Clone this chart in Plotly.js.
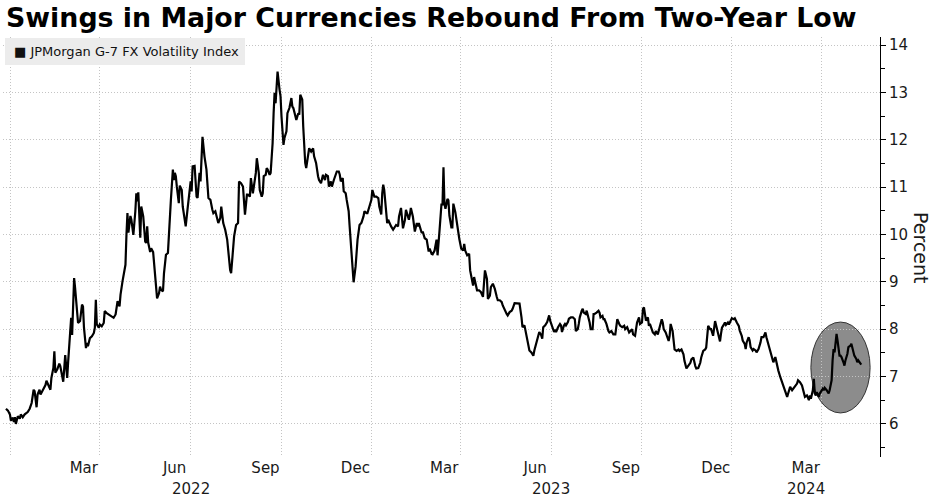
<!DOCTYPE html>
<html>
<head>
<meta charset="utf-8">
<script src="https://cdn.plot.ly/plotly-3.0.1.min.js"></script>
<style>
  html, body { margin: 0; padding: 0; background: #fff; }
  #chart { width: 934px; height: 499px; }
</style>
</head>
<body>
<div id="chart"></div>
<script>
// ---- Data: JPMorgan G-7 FX Volatility Index (percent) ----
const dates = [
  '2021-11-26','2021-11-28','2021-11-30',
  '2021-12-01','2021-12-03','2021-12-04','2021-12-05','2021-12-06','2021-12-08','2021-12-10','2021-12-11','2021-12-13','2021-12-15','2021-12-18','2021-12-20','2021-12-22','2021-12-24','2021-12-25','2021-12-27','2021-12-28','2021-12-30','2021-12-31',
  '2022-01-02','2022-01-05','2022-01-06','2022-01-08','2022-01-10','2022-01-11','2022-01-13','2022-01-14','2022-01-15','2022-01-17','2022-01-19','2022-01-20','2022-01-22','2022-01-23','2022-01-25','2022-01-27','2022-01-28','2022-01-30','2022-01-31',
  '2022-02-01','2022-02-02','2022-02-03','2022-02-04','2022-02-06','2022-02-07','2022-02-09','2022-02-11','2022-02-12','2022-02-13','2022-02-15','2022-02-16','2022-02-17','2022-02-19','2022-02-21','2022-02-23','2022-02-24','2022-02-25','2022-02-26','2022-02-28',
  '2022-03-01','2022-03-03','2022-03-05','2022-03-06','2022-03-08','2022-03-10','2022-03-11','2022-03-13','2022-03-15','2022-03-17','2022-03-18','2022-03-19','2022-03-21','2022-03-22','2022-03-24','2022-03-26','2022-03-27','2022-03-28','2022-03-29','2022-03-30',
  '2022-04-01','2022-04-02','2022-04-04','2022-04-06','2022-04-07','2022-04-08','2022-04-09','2022-04-11','2022-04-12','2022-04-14','2022-04-16','2022-04-17','2022-04-18','2022-04-19','2022-04-21','2022-04-22','2022-04-24','2022-04-25','2022-04-27','2022-04-28','2022-04-30',
  '2022-05-01','2022-05-02','2022-05-04','2022-05-05','2022-05-07','2022-05-09','2022-05-10','2022-05-12','2022-05-14','2022-05-15','2022-05-16','2022-05-17','2022-05-18','2022-05-20','2022-05-21','2022-05-23','2022-05-24','2022-05-26','2022-05-27','2022-05-29','2022-05-31',
  '2022-06-01','2022-06-02','2022-06-03','2022-06-05','2022-06-06','2022-06-07','2022-06-08','2022-06-10','2022-06-11','2022-06-12','2022-06-13','2022-06-15','2022-06-16','2022-06-17','2022-06-19','2022-06-21','2022-06-23','2022-06-24','2022-06-26','2022-06-27','2022-06-29',
  '2022-07-01','2022-07-02','2022-07-04','2022-07-06','2022-07-08','2022-07-09','2022-07-11','2022-07-12','2022-07-14','2022-07-15','2022-07-17','2022-07-19','2022-07-20','2022-07-22','2022-07-24','2022-07-25','2022-07-26','2022-07-28','2022-07-29','2022-07-31',
  '2022-08-01','2022-08-03','2022-08-04','2022-08-06','2022-08-07','2022-08-09','2022-08-10','2022-08-12','2022-08-13','2022-08-14','2022-08-16','2022-08-17','2022-08-18','2022-08-20','2022-08-21','2022-08-23','2022-08-24','2022-08-25','2022-08-26','2022-08-27','2022-08-28','2022-08-30','2022-08-31',
  '2022-09-01','2022-09-03','2022-09-04','2022-09-06','2022-09-07','2022-09-09','2022-09-11','2022-09-12','2022-09-13','2022-09-15','2022-09-16','2022-09-18','2022-09-19','2022-09-20','2022-09-22','2022-09-23','2022-09-24','2022-09-25','2022-09-26','2022-09-28','2022-09-29',
  '2022-10-01','2022-10-03','2022-10-04','2022-10-06','2022-10-08','2022-10-09','2022-10-11','2022-10-13','2022-10-15','2022-10-16','2022-10-18','2022-10-19','2022-10-21','2022-10-22','2022-10-24','2022-10-25','2022-10-27','2022-10-29','2022-10-30','2022-10-31',
  '2022-11-02','2022-11-03','2022-11-05','2022-11-06','2022-11-08','2022-11-09','2022-11-11','2022-11-12','2022-11-13','2022-11-15','2022-11-16','2022-11-17','2022-11-19','2022-11-20','2022-11-21','2022-11-23','2022-11-24','2022-11-26','2022-11-27','2022-11-29',
  '2022-12-01','2022-12-02','2022-12-04','2022-12-06','2022-12-08','2022-12-09','2022-12-11','2022-12-12','2022-12-13','2022-12-14','2022-12-16','2022-12-17','2022-12-18','2022-12-20','2022-12-21','2022-12-23','2022-12-24','2022-12-26','2022-12-28','2022-12-29','2022-12-31',
  '2023-01-01','2023-01-02','2023-01-04','2023-01-05','2023-01-06','2023-01-08','2023-01-09','2023-01-10','2023-01-12','2023-01-13','2023-01-14','2023-01-16','2023-01-17','2023-01-18','2023-01-20','2023-01-21','2023-01-22','2023-01-24','2023-01-26','2023-01-27','2023-01-28','2023-01-29','2023-01-31',
  '2023-02-01','2023-02-03','2023-02-05','2023-02-06','2023-02-08','2023-02-10','2023-02-11','2023-02-12','2023-02-13','2023-02-14','2023-02-16','2023-02-17','2023-02-18','2023-02-20','2023-02-21','2023-02-22','2023-02-24','2023-02-25','2023-02-27','2023-02-28',
  '2023-03-02','2023-03-04','2023-03-05','2023-03-06','2023-03-08','2023-03-10','2023-03-11','2023-03-13','2023-03-14','2023-03-15','2023-03-17','2023-03-18','2023-03-20','2023-03-22','2023-03-24','2023-03-25','2023-03-26','2023-03-28','2023-03-29','2023-03-31',
  '2023-04-01','2023-04-03','2023-04-05','2023-04-07','2023-04-08','2023-04-10','2023-04-12','2023-04-13','2023-04-15','2023-04-17','2023-04-18','2023-04-20','2023-04-22','2023-04-23','2023-04-25','2023-04-27','2023-04-28','2023-04-30',
  '2023-05-02','2023-05-03','2023-05-05','2023-05-06','2023-05-08','2023-05-09','2023-05-10','2023-05-12','2023-05-14','2023-05-15','2023-05-17','2023-05-19','2023-05-20','2023-05-22','2023-05-23','2023-05-24','2023-05-26','2023-05-28','2023-05-30','2023-05-31',
  '2023-06-02','2023-06-04','2023-06-05','2023-06-06','2023-06-08','2023-06-10','2023-06-11','2023-06-12','2023-06-14','2023-06-15','2023-06-16','2023-06-18','2023-06-19','2023-06-21','2023-06-23','2023-06-24','2023-06-25','2023-06-26','2023-06-28','2023-06-29','2023-06-30',
  '2023-07-02','2023-07-03','2023-07-04','2023-07-06','2023-07-07','2023-07-09','2023-07-10','2023-07-11','2023-07-13','2023-07-14','2023-07-15','2023-07-17','2023-07-19','2023-07-20','2023-07-21','2023-07-23','2023-07-24','2023-07-25','2023-07-27','2023-07-29','2023-07-30',
  '2023-08-01','2023-08-03','2023-08-05','2023-08-06','2023-08-07','2023-08-09','2023-08-10','2023-08-12','2023-08-14','2023-08-15','2023-08-17','2023-08-19','2023-08-20','2023-08-22','2023-08-23','2023-08-25','2023-08-26','2023-08-27','2023-08-29','2023-08-30',
  '2023-09-01','2023-09-02','2023-09-03','2023-09-04','2023-09-05','2023-09-07','2023-09-08','2023-09-09','2023-09-11','2023-09-12','2023-09-14','2023-09-15','2023-09-17','2023-09-18','2023-09-19','2023-09-21','2023-09-22','2023-09-23','2023-09-25','2023-09-26','2023-09-28','2023-09-29','2023-09-30',
  '2023-10-02','2023-10-03','2023-10-04','2023-10-06','2023-10-08','2023-10-09','2023-10-11','2023-10-13','2023-10-14','2023-10-16','2023-10-18','2023-10-20','2023-10-21','2023-10-23','2023-10-25','2023-10-26','2023-10-28','2023-10-30','2023-10-31',
  '2023-11-02','2023-11-04','2023-11-05','2023-11-07','2023-11-09','2023-11-10','2023-11-12','2023-11-14','2023-11-15','2023-11-17','2023-11-18','2023-11-19','2023-11-20','2023-11-21','2023-11-23','2023-11-24','2023-11-25','2023-11-27','2023-11-28','2023-11-30',
  '2023-12-01','2023-12-03','2023-12-04','2023-12-06','2023-12-08','2023-12-09','2023-12-11','2023-12-12','2023-12-14','2023-12-15','2023-12-16','2023-12-18','2023-12-19','2023-12-20','2023-12-22','2023-12-23','2023-12-25','2023-12-26','2023-12-28','2023-12-30','2023-12-31',
  '2024-01-02','2024-01-04','2024-01-05','2024-01-07','2024-01-09','2024-01-10','2024-01-12','2024-01-14','2024-01-15','2024-01-17','2024-01-19','2024-01-21','2024-01-22','2024-01-24','2024-01-26','2024-01-27','2024-01-29','2024-01-31',
  '2024-02-01','2024-02-03','2024-02-05','2024-02-06','2024-02-08','2024-02-10','2024-02-11','2024-02-13','2024-02-15','2024-02-17','2024-02-18','2024-02-19','2024-02-21','2024-02-22','2024-02-23','2024-02-24','2024-02-25','2024-02-27','2024-02-28','2024-02-29',
  '2024-03-02','2024-03-03','2024-03-04','2024-03-06','2024-03-08','2024-03-09','2024-03-11','2024-03-12','2024-03-13','2024-03-14','2024-03-15','2024-03-16','2024-03-17','2024-03-19','2024-03-20','2024-03-21','2024-03-23','2024-03-24','2024-03-25','2024-03-27','2024-03-28','2024-03-30','2024-03-31',
  '2024-04-02','2024-04-03','2024-04-05','2024-04-06','2024-04-07','2024-04-09','2024-04-10'
];
const volatility = [
  6.32,6.28,6.20,
  6.07,6.13,6.04,6.14,6.00,6.16,6.11,6.20,6.14,6.20,6.25,6.32,6.44,6.72,6.69,6.35,6.62,6.72,6.62,
  6.70,6.82,6.91,6.83,6.72,6.97,7.18,7.53,7.08,7.15,7.27,7.22,6.97,6.89,7.45,6.97,7.32,7.88,8.24,
  7.88,8.45,9.08,8.87,8.45,8.13,8.17,8.52,8.48,8.03,7.60,7.71,7.64,7.81,7.85,7.92,8.03,8.62,8.10,8.03,
  8.10,8.06,8.13,8.38,8.34,8.31,8.31,8.27,8.24,8.31,8.45,8.59,8.48,8.73,9.01,9.22,9.36,9.99,10.45,10.04,
  10.39,10.31,9.99,10.49,10.87,10.70,10.89,9.93,10.59,10.38,9.85,9.82,10.17,9.83,9.63,9.71,9.63,9.39,8.90,8.65,8.76,
  8.90,8.83,8.80,9.18,9.57,9.61,10.03,10.73,11.37,11.15,11.30,11.23,11.01,10.66,11.03,10.94,10.59,10.31,10.17,10.56,10.91,
  11.12,10.91,11.44,11.45,11.12,10.80,10.77,11.30,11.12,11.58,12.06,11.65,11.44,11.37,10.77,10.73,10.52,10.45,10.49,10.42,10.24,
  10.35,10.59,10.24,10.10,9.89,9.61,9.25,9.18,9.68,9.96,10.20,10.24,11.12,11.08,11.01,10.73,10.42,10.84,10.84,10.80,
  11.19,10.87,11.01,11.30,11.61,11.30,10.94,10.80,10.87,11.23,11.26,11.40,11.37,11.26,11.30,11.93,12.56,12.99,12.77,13.02,13.44,13.06,12.92,
  12.49,11.89,12.04,12.18,12.56,12.67,12.88,12.70,12.67,12.53,12.42,12.56,12.53,12.95,12.85,12.28,11.72,11.51,11.40,11.65,11.82,
  11.75,11.82,11.65,11.51,11.23,11.15,11.08,11.26,11.15,11.26,11.23,11.01,11.12,11.01,11.15,11.23,11.33,11.33,11.26,11.12,
  11.19,10.91,10.87,10.73,10.49,10.17,9.61,9.18,8.99,9.32,9.68,9.89,10.20,10.24,10.25,10.38,10.49,10.45,10.45,10.59,
  10.73,10.94,10.80,10.80,10.77,10.59,10.42,10.87,11.05,10.94,10.38,10.24,10.31,10.20,10.17,10.10,10.13,10.20,10.17,10.38,10.56,
  10.35,10.13,10.31,10.52,10.45,10.31,10.42,10.56,10.38,10.24,10.06,10.24,10.17,10.24,10.10,10.03,10.06,9.92,9.89,9.75,9.64,9.70,9.59,
  9.58,9.66,9.89,9.56,10.08,10.65,10.61,11.42,10.65,10.54,10.75,10.72,10.40,10.15,10.15,10.65,10.47,10.30,10.08,9.91,
  9.70,9.66,9.80,9.66,9.56,9.59,9.24,8.96,8.92,9.10,8.85,8.82,8.82,8.78,8.68,8.96,9.24,9.06,8.64,8.71,
  8.89,8.96,8.85,8.68,8.61,8.61,8.57,8.50,8.39,8.32,8.29,8.36,8.39,8.43,8.55,8.54,8.55,8.54,
  8.25,8.04,8.08,7.97,7.76,7.58,7.55,7.51,7.44,7.55,7.69,7.83,7.94,7.87,7.80,8.04,8.08,8.15,8.29,8.18,
  8.04,7.94,7.97,7.94,8.04,8.11,8.08,7.94,8.08,8.11,8.08,8.15,8.22,8.25,8.25,8.22,8.21,7.96,8.00,8.11,8.25,
  8.39,8.43,8.35,8.32,8.39,8.25,8.14,8.00,8.00,8.32,8.32,8.35,8.39,8.35,8.25,8.28,8.21,8.21,8.11,7.96,7.93,
  7.96,7.89,7.89,8.11,8.21,8.11,8.07,8.04,8.07,8.00,8.04,7.93,7.96,8.00,7.89,7.86,8.00,8.14,8.25,8.11,
  8.14,8.43,8.46,8.35,8.18,8.25,8.07,8.11,7.96,7.93,7.89,7.96,7.89,7.96,8.07,8.21,8.14,8.00,7.93,7.86,7.75,7.86,8.11,
  7.96,7.75,7.57,7.54,7.57,7.54,7.57,7.47,7.33,7.17,7.22,7.29,7.36,7.40,7.22,7.17,7.18,7.29,7.40,
  7.54,7.57,7.61,8.07,8.00,8.00,7.86,8.17,8.07,7.93,7.79,7.74,7.90,8.03,8.10,8.14,8.09,8.14,8.10,8.17,
  8.23,8.21,8.23,8.14,8.07,7.97,7.86,7.76,7.69,7.58,7.72,7.83,7.76,7.62,7.55,7.58,7.55,7.51,7.58,7.72,7.83,
  7.83,7.93,7.83,7.69,7.55,7.44,7.30,7.41,7.30,7.13,6.99,6.88,6.81,6.71,6.57,6.64,6.78,6.71,
  6.74,6.81,6.85,6.92,6.88,6.81,6.71,6.57,6.60,6.50,6.60,6.53,6.71,6.95,6.64,6.60,6.67,6.57,6.64,6.67,
  6.74,6.71,6.76,6.71,6.64,6.71,6.92,7.34,7.58,7.51,7.69,7.90,7.76,7.44,7.44,7.41,7.30,7.23,7.34,7.48,7.62,7.65,7.69,
  7.55,7.44,7.37,7.30,7.34,7.27,7.25
];

// ---- Axis ticks and labels ----
const monthTickDates = ['2021-12-01','2022-03-01','2022-06-01','2022-09-01','2022-12-01','2023-03-01','2023-06-01','2023-09-01','2023-12-01','2024-03-01'];
const monthTickText  = ['','Mar','Jun','Sep','Dec','Mar','Jun','Sep','Dec','Mar'];
const yearLabels     = ['2022','2023','2024'];
const yearLabelDates = ['2022-06-01','2023-06-01','2024-02-14'];
const yTickVals      = [6,7,8,9,10,11,12,13,14];

const seriesName = 'JPMorgan G-7 FX Volatility Index';
const titleText  = 'Swings in Major Currencies Rebound From Two-Year Low';

// highlight ellipse bounds (annotation, not data)
const highlight = {x0: '2024-02-19', x1: '2024-04-19', y0: 6.23, y1: 8.15};

const FONT = 'DejaVu Sans, Verdana, sans-serif';
const GRID = '#c4c4c4';
const GRIDDASH = '1px,2px';

const trace = {
  type: 'scatter', mode: 'lines', name: seriesName,
  x: dates, y: volatility,
  line: {color: '#000000', width: 2.2},
  hoverinfo: 'x+y'
};

const annotations = yearLabels.map((t, i) => ({
  x: yearLabelDates[i], xref: 'x', y: -0.076, yref: 'paper',
  text: t, showarrow: false, xanchor: 'center', yanchor: 'middle',
  font: {family: FONT, size: 15, color: '#1a1a1a'}
}));
annotations.push({
  x: 0.0105, xref: 'paper', y: 0.9643, yref: 'paper',
  text: '■ ' + seriesName, showarrow: false, xanchor: 'left', yanchor: 'middle',
  font: {family: FONT, size: 13, color: '#111'}
});
annotations.push({
  x: 1.0467, xref: 'paper', y: 0.4976, yref: 'paper',
  text: 'Percent', textangle: 90, showarrow: false, xanchor: 'center', yanchor: 'middle',
  font: {family: FONT, size: 19, color: '#1a1a1a'}
});

const layout = {
  width: 934, height: 499,
  margin: {l: 3, r: 54, t: 37, b: 42, pad: 0},
  paper_bgcolor: '#ffffff', plot_bgcolor: '#ffffff',
  font: {family: FONT, size: 15, color: '#1a1a1a'},
  showlegend: false,
  title: {
    text: titleText,
    font: {family: FONT, size: 26.8, weight: 700, color: '#000'},
    x: 0.0065, xref: 'container', xanchor: 'left',
    y: 0.964, yref: 'container', yanchor: 'middle'
  },
  xaxis: {
    type: 'date', range: ['2021-11-23', '2024-04-29'],
    tickmode: 'array', tickvals: monthTickDates, ticktext: monthTickText,
    ticks: '', ticklabelshift: -16,
    showgrid: true, gridcolor: GRID, griddash: GRIDDASH, gridwidth: 1,
    zeroline: false, showline: false,
    tickfont: {family: FONT, size: 15, color: '#1a1a1a'},
    fixedrange: true
  },
  yaxis: {
    side: 'right', range: [5.30, 14.17],
    tickmode: 'array', tickvals: yTickVals,
    ticks: 'outside', ticklen: 5, tickwidth: 1, tickcolor: '#000',
    showline: true, linecolor: '#000', linewidth: 1,
    showgrid: true, gridcolor: GRID, griddash: GRIDDASH, gridwidth: 1,
    zeroline: false,
    minor: {dtick: 0.5, tick0: 0, ticks: 'outside', ticklen: 4, tickcolor: '#000', showgrid: false},
    tickfont: {family: FONT, size: 15, color: '#1a1a1a'},
    fixedrange: true
  },
  shapes: [
    {
      type: 'circle', xref: 'x', yref: 'y',
      x0: highlight.x0, x1: highlight.x1, y0: highlight.y0, y1: highlight.y1,
      fillcolor: '#8c8c8c', line: {color: '#333333', width: 1}, layer: 'below'
    },
    {
      type: 'rect', xref: 'paper', yref: 'paper',
      x0: 0.0023, x1: 0.2759, y0: 0.9333, y1: 0.9976,
      fillcolor: '#ececec', line: {width: 0}, layer: 'above'
    }
  ],
  annotations: annotations
};

if (dates.length !== volatility.length) {
  console.error('length mismatch', dates.length, volatility.length);
}

Plotly.newPlot('chart', [trace], layout, {displayModeBar: false, staticPlot: true});
</script>
</body>
</html>
